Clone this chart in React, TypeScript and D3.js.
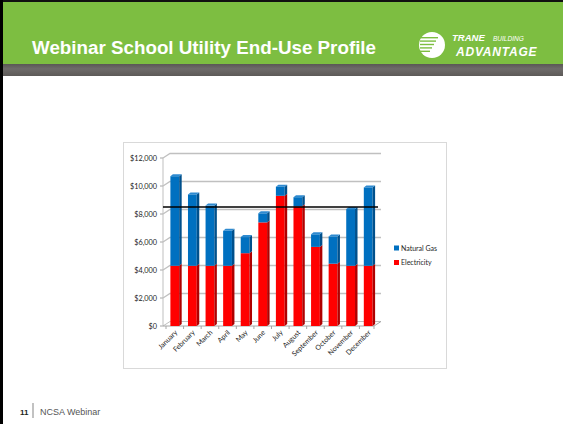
import * as d3 from 'd3';

// Monthly utility costs
const MONTHS = ['January', 'February', 'March', 'April', 'May', 'June', 'July', 'August', 'September', 'October', 'November', 'December'];
const ELECTRICITY = [4300, 4300, 4300, 4300, 5200, 7400, 9300, 8550, 5650, 4450, 4300, 4300];
const NATURAL_GAS = [6400, 5100, 4300, 2500, 1150, 650, 650, 650, 900, 1950, 4050, 5600];
const Y_TICKS = [0, 2000, 4000, 6000, 8000, 10000, 12000];
const TARGET_LINE = 8500;

const W = 563;
const H = 424;
const BLUE = '#0070C0';
const BLUE_SIDE = '#00508C';
const BLUE_TOP = '#2E8AD0';
const RED = '#FF0000';
const RED_SIDE = '#B00000';
const CHART_FONT = 'Lato, "Open Sans", sans-serif';
const SLIDE_FONT = '"Liberation Sans", Arial, sans-serif';

// 3D depth offset of the Excel-style chart
const DX = 2.5;
const DY = -2;

export default function App() {
  const x = d3.scaleBand<string>().domain(MONTHS).range([166, 377]).paddingInner(0.5).paddingOuter(0.25);
  const y = d3.scaleLinear().domain([0, 12000]).range([326, 158]);
  const bw = x.bandwidth();
  const fmt = (v: number) => '$' + d3.format(',')(v);

  const bar = (m: string, lo: number, hi: number, front: string, side: string, top?: string) => {
    const x0 = x(m) ?? 0;
    const y0 = y(hi);
    const y1 = y(lo);
    return (
      <g key={m + lo}>
        <rect x={x0} y={y0} width={bw} height={y1 - y0} fill={front} />
        <path d={`M${x0 + bw},${y0} L${x0 + bw + DX},${y0 + DY} L${x0 + bw + DX},${y1 + DY} L${x0 + bw},${y1} Z`} fill={side} />
        {top && <path d={`M${x0},${y0} L${x0 + DX},${y0 + DY} L${x0 + bw + DX},${y0 + DY} L${x0 + bw},${y0} Z`} fill={top} />}
      </g>
    );
  };

  return (
    <svg width={W} height={H} style={{ position: 'absolute', left: 0, top: 0, display: 'block' }}>
      <defs>
        <linearGradient id="band" x1="0" x2="0" y1="0" y2="1">
          <stop offset="0" stopColor="#5a5755" />
          <stop offset="0.4" stopColor="#6e6b6a" />
          <stop offset="1" stopColor="#5d5a58" />
        </linearGradient>
      </defs>
      <rect x={0} y={0} width={W} height={H} fill="#fff" />

      {/* header */}
      <rect x={0} y={0} width={W} height={64} fill="#7DBE41" />
      <rect x={0} y={64} width={W} height={12} fill="url(#band)" />
      <rect x={0} y={0} width={W} height={2} fill="#111" />
      <rect x={0} y={0} width={3} height={H} fill="#000" />
      <text x={32} y={53.5} fill="#fff" fontFamily={SLIDE_FONT} fontWeight="bold" fontSize={18.8}>
        Webinar School Utility End-Use Profile
      </text>

      {/* Trane logo */}
      <g>
        <circle cx={432} cy={45} r={13} fill="#fff" />
        {[0, 1, 2, 3, 4].map((i) => (
          <rect key={i} x={420} y={37 + i * 3.4} width={18 - i * 2} height={1.4} fill="#7DBE41" />
        ))}
        <text x={452} y={41} fill="#fff" fontFamily={SLIDE_FONT} fontWeight="bold" fontStyle="italic" fontSize={9.5}>
          TRANE
        </text>
        <text x={493} y={41} fill="#fff" fontFamily={SLIDE_FONT} fontStyle="italic" fontSize={6.5}>
          BUILDING
        </text>
        <text x={456} y={56} fill="#fff" fontFamily={SLIDE_FONT} fontWeight="bold" fontStyle="italic" fontSize={12} letterSpacing={0.8}>
          ADVANTAGE
        </text>
      </g>

      {/* chart frame */}
      <rect x={123.5} y={142.5} width={323} height={226} fill="#fff" stroke="#d9d9d9" strokeWidth={1} />

      {/* back-wall gridlines */}
      {Y_TICKS.map((t) => (
        <g key={t}>
          <path d={`M163,${y(t)} L170,${y(t) - 4.5} L381,${y(t) - 4.5}`} fill="none" stroke="#c0c0c0" strokeWidth={t === 0 ? 1 : 1.3} />
          <line x1={160} x2={163} y1={y(t)} y2={y(t)} stroke="#a6a6a6" />
          <text x={157} y={y(t) + 2.5} textAnchor="end" fontFamily={CHART_FONT} fontSize={7.3} fill="#262626">
            {fmt(t)}
          </text>
        </g>
      ))}
      {/* left wall & floor */}
      <line x1={163} x2={163} y1={y(12000)} y2={y(0)} stroke="#bfbfbf" />
      <path d={`M163,${y(0)} L374,${y(0)} L381,${y(0) - 4.5}`} fill="none" stroke="#a6a6a6" />
      {MONTHS.map((m) => {
        const bx = (x(m) ?? 0) - (x.step() - bw) / 2;
        return <line key={m} x1={bx} x2={bx} y1={y(0)} y2={y(0) + 3} stroke="#a6a6a6" />;
      })}
      <line x1={374} x2={374} y1={y(0)} y2={y(0) + 3} stroke="#a6a6a6" />

      {/* stacked bars */}
      {MONTHS.map((m, i) => bar(m, 0, ELECTRICITY[i], RED, RED_SIDE))}
      {MONTHS.map((m, i) => bar(m, ELECTRICITY[i], ELECTRICITY[i] + NATURAL_GAS[i], BLUE, BLUE_SIDE, BLUE_TOP))}

      {/* reference line */}
      <line x1={163} x2={378} y1={y(TARGET_LINE)} y2={y(TARGET_LINE)} stroke="#000" strokeWidth={1.6} />

      {/* month labels */}
      {MONTHS.map((m) => {
        const cx = (x(m) ?? 0) + bw / 2 + 3;
        return (
          <text key={m} transform={`translate(${cx},${y(0) + 7}) rotate(-45)`} textAnchor="end" fontFamily={CHART_FONT} fontSize={7} fill="#262626">
            {m}
          </text>
        );
      })}

      {/* legend */}
      <rect x={394} y={245.5} width={5} height={5} fill={BLUE} />
      <text x={401} y={250.5} fontFamily={CHART_FONT} fontSize={7} fill="#262626">Natural Gas</text>
      <rect x={394} y={260} width={5} height={5} fill={RED} />
      <text x={401} y={265} fontFamily={CHART_FONT} fontSize={7} fill="#262626">Electricity</text>

      {/* footer */}
      <text x={20} y={415} fontFamily={SLIDE_FONT} fontWeight="bold" fontSize={8} fill="#222">11</text>
      <line x1={33} x2={33} y1={403} y2={418} stroke="#999" strokeWidth={1.2} />
      <text x={40} y={415} fontFamily={SLIDE_FONT} fontSize={9} fill="#555">NCSA Webinar</text>
    </svg>
  );
}
